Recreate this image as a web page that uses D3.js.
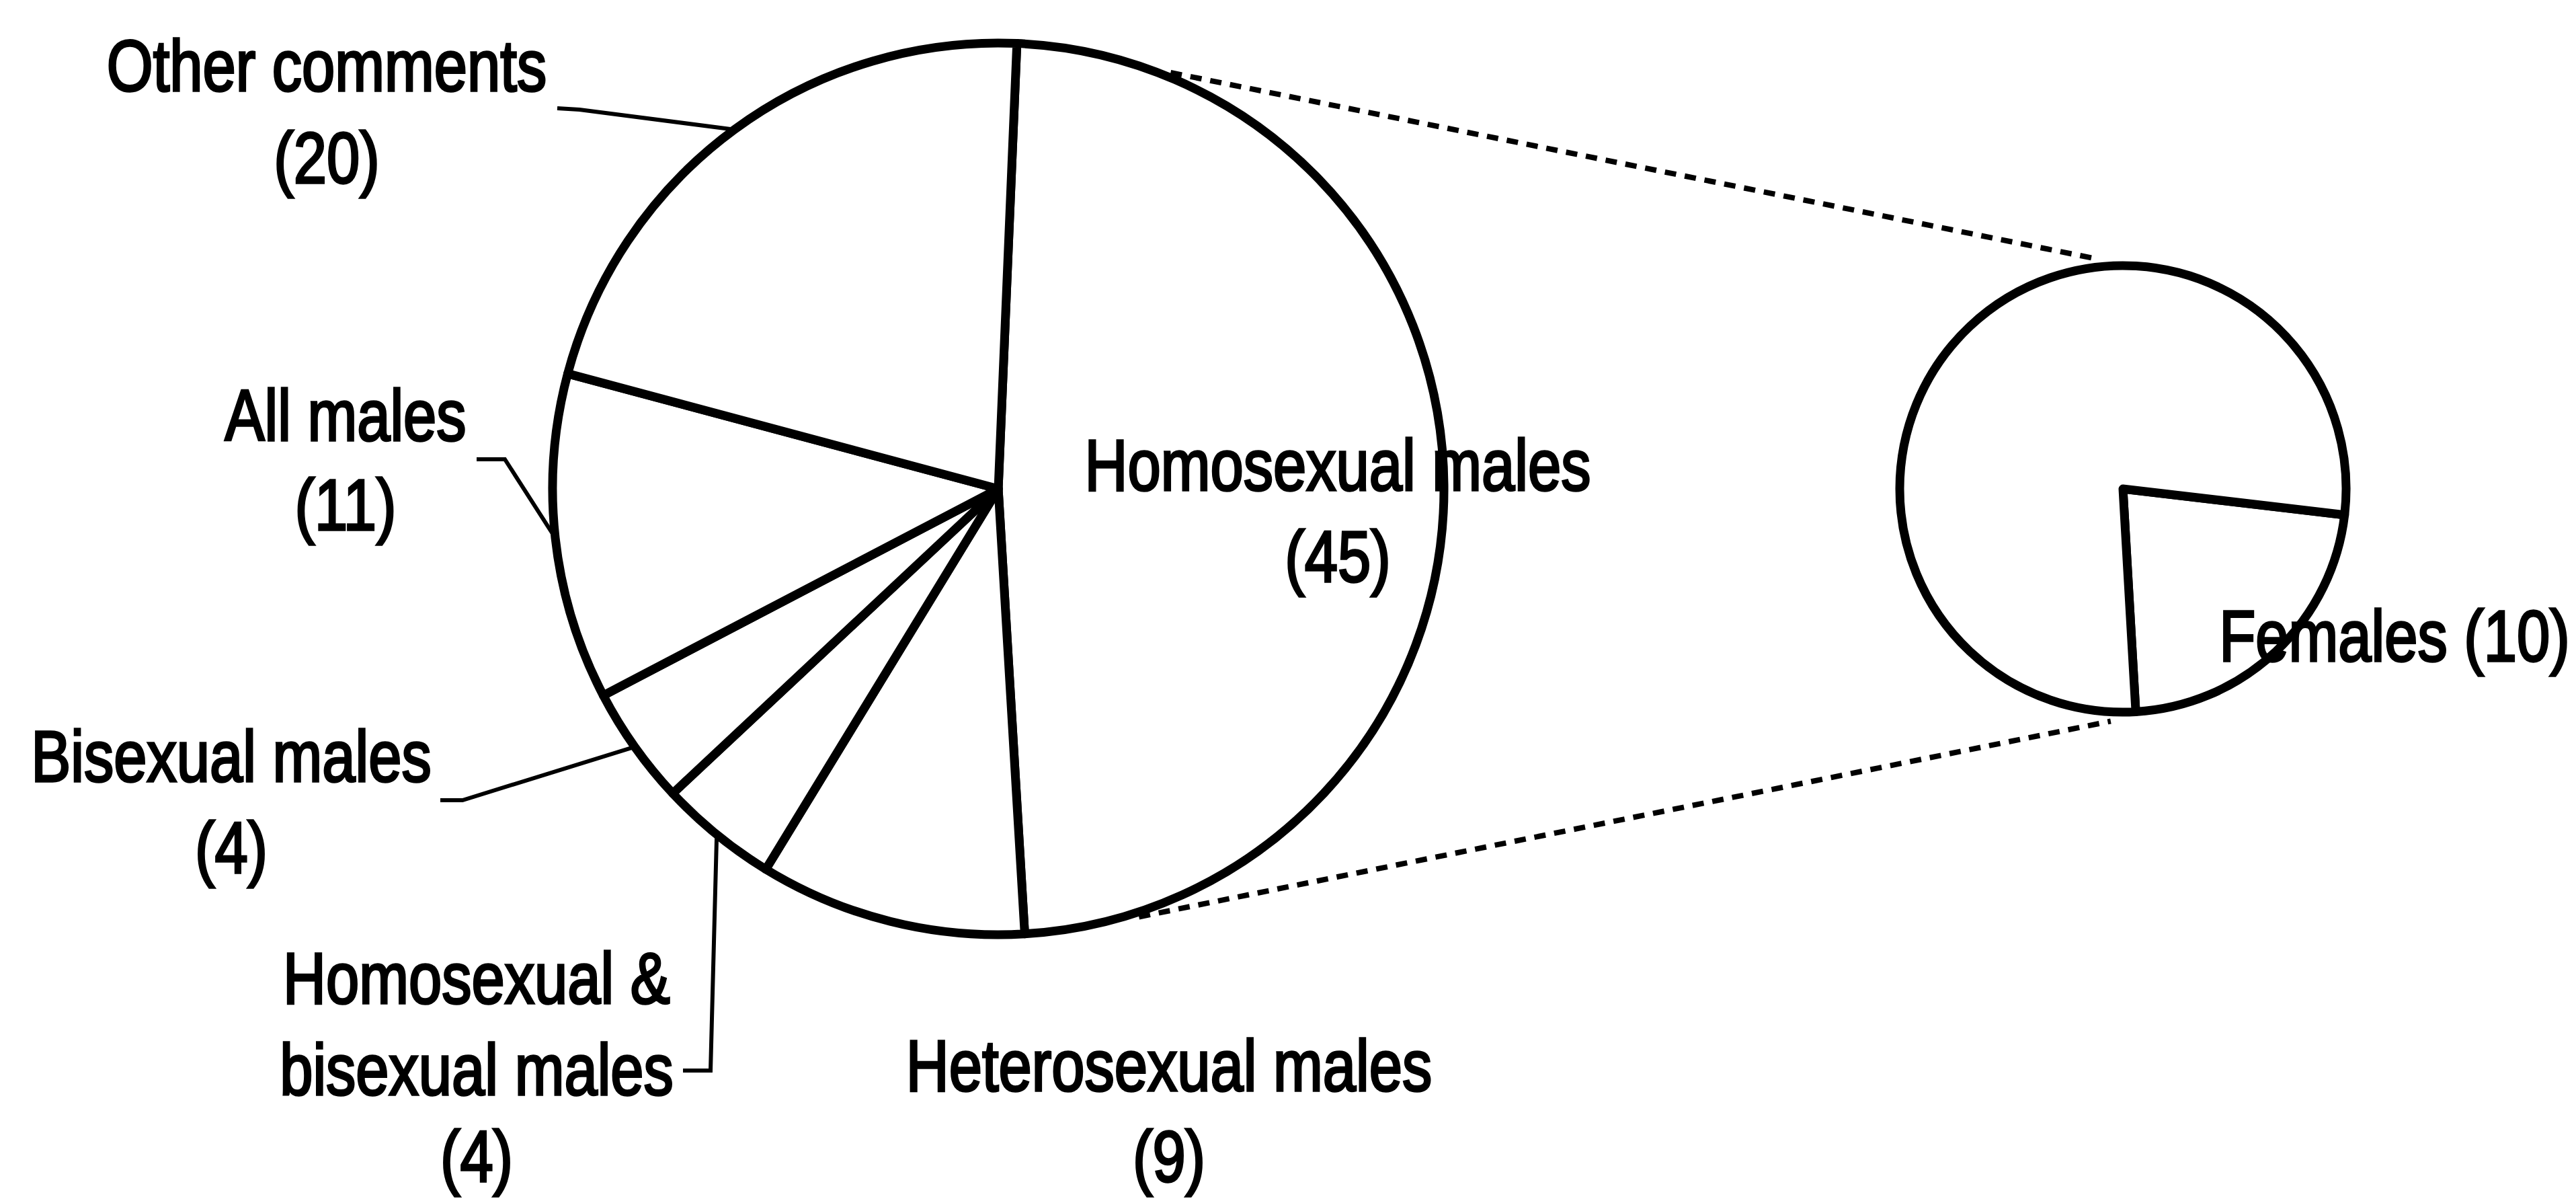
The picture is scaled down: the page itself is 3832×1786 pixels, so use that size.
<!DOCTYPE html>
<html>
<head>
<meta charset="utf-8">
<script src="https://cdn.jsdelivr.net/npm/d3@7.9.0/dist/d3.min.js"></script>
<style>
  html, body { margin: 0; padding: 0; background: #fff; }
  svg { display: block; background: #fff; }
  .lbl { font-family: "Liberation Sans", Arial, sans-serif; font-size: 108px; fill: #000; stroke: #000; stroke-width: 3.5px; text-anchor: middle; }
</style>
</head>
<body>
<svg id="chart" width="3832" height="1786"></svg>
<script>
// main pie, clockwise from the top
const categories = ["Homosexual males", "Heterosexual males", "Homosexual & bisexual males", "Bisexual males", "All males", "Other comments"];
const counts = [45, 9, 4, 4, 11, 20];
const labelLines = [["Homosexual males"], ["Heterosexual males"], ["Homosexual &", "bisexual males"], ["Bisexual males"], ["All males"], ["Other comments"]];

// breakdown of the big slice (second pie)
const subCategories = ["Females", "Rest"];
const subCounts = [10, 35];

// layout
const W = 3832, H = 1786;
const narrow = 0.82; // squeeze to look like Arial Narrow
const main = { cx: 1485, cy: 727, r: 663, start: 2.4 };
const sub = { cx: 3158, cy: 727, r: 332, start: 96.7 };
const labelPos = {
  "Homosexual males": { x: 1990, y: [729, 865] },
  "Heterosexual males": { x: 1739, y: [1622, 1757] },
  "Homosexual & bisexual males": { x: 709, y: [1492, 1628, 1757], leader: [[1016, 1592], [1057, 1592]] },
  "Bisexual males": { x: 344, y: [1162, 1298], leader: [[655, 1190], [688, 1190]] },
  "All males": { x: 514, y: [655, 788], leader: [[709, 683], [751, 683]] },
  "Other comments": { x: 486, y: [135, 272], leader: [[829, 161], [862, 163]] }
};
// dashed connectors: angle on main pie -> angle on second pie (degrees)
const connectors = [[22.5, -7.4], [161.8, 183]];

const rad = d => d * Math.PI / 180;
const onCircle = (c, a, r) => [c.cx + Math.sin(a) * r, c.cy - Math.cos(a) * r];

const svg = d3.select("#chart");

function drawPie(c, values) {
  const s = rad(c.start);
  const arcs = d3.pie().sort(null).value(d => d).startAngle(s).endAngle(s + 2 * Math.PI)(values);
  const arcGen = d3.arc().innerRadius(0).outerRadius(c.r);
  svg.append("g")
    .attr("transform", `translate(${c.cx},${c.cy})`)
    .selectAll("path")
    .data(arcs)
    .join("path")
    .attr("d", arcGen)
    .attr("fill", "#fff")
    .attr("stroke", "#000")
    .attr("stroke-width", 13)
    .attr("stroke-linejoin", "round");
  return arcs;
}

function label(x, y, t) {
  svg.append("text").attr("class", "lbl")
    .attr("transform", `translate(${x},${y}) scale(${narrow},1)`)
    .text(t);
}

// connectors first so the pies sit on top
const line = d3.line();
connectors.forEach(([a1, a2]) => {
  svg.append("path")
    .attr("d", line([onCircle(main, rad(a1), main.r + 7), onCircle(sub, rad(a2), sub.r + 14)]))
    .attr("fill", "none")
    .attr("stroke", "#000")
    .attr("stroke-width", 8)
    .attr("stroke-dasharray", "17,13");
});

const mainArcs = drawPie(main, counts);
const subArcs = drawPie(sub, subCounts);

// leader lines from slice middle to label
mainArcs.forEach((d, i) => {
  const p = labelPos[categories[i]];
  if (!p.leader) return;
  const mid = (d.startAngle + d.endAngle) / 2;
  const pts = [...p.leader, onCircle(main, mid, main.r)];
  svg.append("path")
    .attr("d", line(pts))
    .attr("fill", "none")
    .attr("stroke", "#000")
    .attr("stroke-width", 6);
});

// labels
categories.forEach((cat, i) => {
  const p = labelPos[cat];
  const lines = [...labelLines[i], `(${counts[i]})`];
  lines.forEach((t, j) => label(p.x, p.y[j], t));
});

label(3562, 983, `${subCategories[0]} (${subCounts[0]})`);
</script>
</body>
</html>
